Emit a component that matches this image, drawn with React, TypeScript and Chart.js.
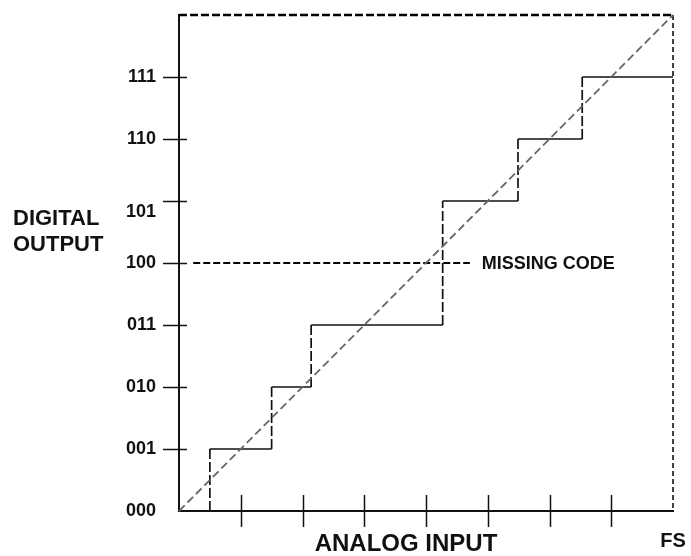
import React, { useEffect, useRef } from "react";
import { Chart, registerables } from "chart.js";

Chart.register(...registerables);

// ---- data ----
const codeLabels = ["000", "001", "010", "011", "100", "101", "110", "111"];
const loweredCode = "101";
const fsLabel = "FS";
const xTitle = "ANALOG INPUT";
const yTitleLines = ["DIGITAL", "OUTPUT"];
const missingLabel = "MISSING CODE";

const stepX = [0, 0.5, 0.5, 1.5, 1.5, 2.14, 2.14, 4.27, 4.27, 5.49, 5.49, 6.53, 6.53, 8];
const stepY = [0, 0, 1, 1, 2, 2, 3, 3, 5, 5, 6, 6, 7, 7];
const idealX = [0, 8];
const idealY = [0, 8];
const missingX = [0.23, 4.71];
const missingY = [4, 4];
const frameTopX = [0, 8];
const frameTopY = [8, 8];
const frameRightX = [8, 8];
const frameRightY = [8, 0];

const FONT = "'Liberation Sans', Arial, sans-serif";

const pts = (xs: number[], ys: number[]) => xs.map((x, i) => ({ x, y: ys[i] }));

const decorPlugin = {
  id: "decor",
  afterDraw(chart: any) {
    const { ctx, chartArea, scales } = chart;
    const xs = scales.x;
    const ys = scales.y;
    ctx.save();
    ctx.strokeStyle = "#111";
    ctx.lineWidth = 1.5;
    ys.ticks.forEach((t: any) => {
      if (t.value > 0 && t.value < 8) {
        const py = Math.round(ys.getPixelForValue(t.value)) + 0.5;
        ctx.beginPath();
        ctx.moveTo(chartArea.left - 16, py);
        ctx.lineTo(chartArea.left + 8, py);
        ctx.stroke();
      }
    });
    xs.ticks.forEach((t: any) => {
      if (t.value > 0 && t.value < 8) {
        const px = Math.round(xs.getPixelForValue(t.value)) + 0.5;
        ctx.beginPath();
        ctx.moveTo(px, chartArea.bottom - 16);
        ctx.lineTo(px, chartArea.bottom + 16);
        ctx.stroke();
      }
    });
    ctx.fillStyle = "#111";
    ctx.font = `bold 24px ${FONT}`;
    ctx.textAlign = "center";
    ctx.textBaseline = "middle";
    ctx.fillText(xTitle, (chartArea.left + chartArea.right) / 2 - 20, chartArea.bottom + 33);
    ctx.font = `bold 22px ${FONT}`;
    ctx.textAlign = "left";
    const yc = ys.getPixelForValue(4.5);
    ctx.fillText(yTitleLines[0], 13, yc - 13);
    ctx.fillText(yTitleLines[1], 13, yc + 13);
    ctx.font = `bold 18px ${FONT}`;
    ctx.fillText(missingLabel, xs.getPixelForValue(missingX[1]) + 12, ys.getPixelForValue(missingY[1]) + 1);
    ctx.restore();
  },
};

const zeroPad = (s: any) => {
  s.paddingTop = 0;
  s.paddingBottom = 0;
  s.paddingLeft = 0;
  s.paddingRight = 0;
};

export default function App() {
  const ref = useRef<HTMLCanvasElement | null>(null);
  useEffect(() => {
    if (!ref.current) return;
    const chart = new Chart(ref.current, {
      type: "scatter",
      data: {
        datasets: [
          {
            label: "ideal",
            data: pts(idealX, idealY),
            showLine: true,
            borderColor: "#666",
            borderWidth: 1.8,
            borderDash: [8, 4],
            pointRadius: 0,
            clip: false as any,
          },
          {
            label: "transfer",
            data: pts(stepX, stepY),
            showLine: true,
            borderColor: "#111",
            borderWidth: 1.7,
            pointRadius: 0,
            clip: false as any,
            segment: {
              borderDash: (c: any) => (c.p0.parsed.x === c.p1.parsed.x ? [10, 3] : []),
            },
          },
          {
            label: "missing",
            data: pts(missingX, missingY),
            showLine: true,
            borderColor: "#000",
            borderWidth: 2.2,
            borderDash: [7, 3],
            pointRadius: 0,
            clip: false as any,
          },
          {
            label: "frameTop",
            data: pts(frameTopX, frameTopY),
            showLine: true,
            borderColor: "#000",
            borderWidth: 2.6,
            borderDash: [8, 3],
            pointRadius: 0,
            clip: false as any,
          },
          {
            label: "frameRight",
            data: pts(frameRightX, frameRightY),
            showLine: true,
            borderColor: "#111",
            borderWidth: 1.6,
            borderDash: [5, 3],
            pointRadius: 0,
            clip: false as any,
          },
        ],
      },
      options: {
        animation: false,
        responsive: false,
        layout: { padding: { left: 0, top: 15, right: 18, bottom: 0 } },
        plugins: { legend: { display: false }, tooltip: { enabled: false } },
        scales: {
          x: {
            type: "linear",
            min: 0,
            max: 8,
            grid: { display: false },
            border: { display: true, color: "#111", width: 2 },
            ticks: {
              stepSize: 1,
              autoSkip: false,
              maxRotation: 0,
              padding: 10,
              color: "#111",
              font: { family: FONT, size: 20, weight: "bold" },
              callback: (v: any) => (Number(v) === 8 ? fsLabel : ""),
            },
            afterFit: (s: any) => {
              s.height = 45;
              zeroPad(s);
            },
          },
          y: {
            type: "linear",
            min: 0,
            max: 8,
            grid: { display: false },
            border: { display: true, color: "#111", width: 2 },
            ticks: {
              stepSize: 1,
              autoSkip: false,
              padding: 15,
              color: "#111",
              font: { family: FONT, size: 18, weight: "bold" },
              callback: (v: any) => {
                const i = Number(v);
                if (i < 0 || i >= codeLabels.length) return "";
                const s = codeLabels[i];
                return s === loweredCode ? ["", s] : s;
              },
            },
            afterFit: (s: any) => {
              s.width = 179;
              zeroPad(s);
            },
          },
        },
      },
      plugins: [decorPlugin],
    });
    return () => chart.destroy();
  }, []);
  return (
    <div style={{ position: "absolute", left: 0, top: 0, width: 691, height: 556, background: "#fff" }}>
      <canvas ref={ref} width={691} height={556} style={{ display: "block" }} />
    </div>
  );
}
